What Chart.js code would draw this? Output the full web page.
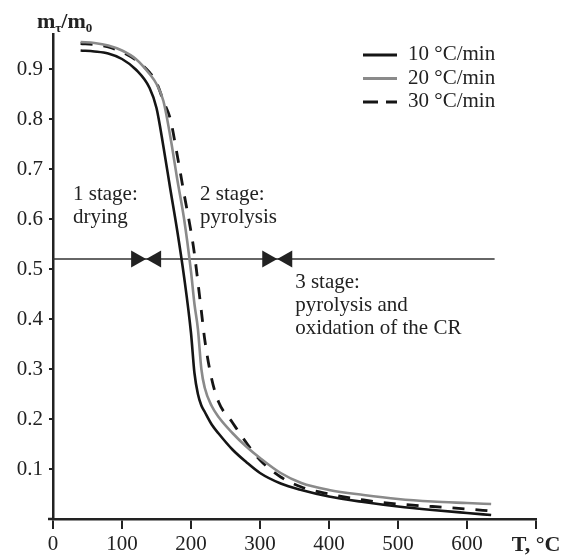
<!DOCTYPE html>
<html>
<head>
<meta charset="utf-8">
<script src="https://cdn.jsdelivr.net/npm/chart.js@4.4.1/dist/chart.umd.min.js"></script>
<style>
  body { margin: 0; background: #fff; }
  #wrap { width: 566px; height: 559px; }
</style>
</head>
<body>
<div id="wrap"><canvas id="tgChart"></canvas></div>
<script>
// temperature grid, °C
const temps = [40, 60, 80, 100, 120, 140, 150, 160, 170, 180, 190, 200, 205, 210, 215, 220, 230, 240, 260, 280, 300, 330, 360, 400, 450, 500, 550, 600, 635];

// relative mass m_t/m_0 for each heating rate
const mass10 = [0.937, 0.935, 0.931, 0.920, 0.899, 0.862, 0.822, 0.745, 0.660, 0.577, 0.484, 0.372, 0.292, 0.250, 0.227, 0.214, 0.189, 0.171, 0.139, 0.114, 0.092, 0.071, 0.058, 0.045, 0.034, 0.025, 0.018, 0.012, 0.008];
const mass20 = [0.954, 0.952, 0.947, 0.937, 0.920, 0.890, 0.870, 0.836, 0.765, 0.680, 0.600, 0.495, 0.430, 0.380, 0.300, 0.262, 0.226, 0.204, 0.172, 0.145, 0.122, 0.092, 0.072, 0.058, 0.048, 0.040, 0.035, 0.032, 0.030];
const mass30 = [0.951, 0.949, 0.944, 0.934, 0.918, 0.893, 0.873, 0.836, 0.800, 0.728, 0.650, 0.575, 0.530, 0.474, 0.416, 0.358, 0.280, 0.234, 0.193, 0.153, 0.118, 0.084, 0.064, 0.050, 0.038, 0.030, 0.025, 0.020, 0.016];

const rateLabels = ["10 °C/min", "20 °C/min", "30 °C/min"];

const xTicks = [0, 100, 200, 300, 400, 500, 600, 700];
const yTicks = [0, 0.1, 0.2, 0.3, 0.4, 0.5, 0.6, 0.7, 0.8, 0.9];

// stage separation line and its border markers
const stageLevel = 0.52;
const stageLineEnds = [0, 640];
const stageBorders = [135, 325];

const stageNotes = [
  { t: 29, m: [0.638, 0.592], lines: ["1 stage:", "drying"] },
  { t: 213, m: [0.638, 0.592], lines: ["2 stage:", "pyrolysis"] },
  { t: 351, m: [0.462, 0.416, 0.370], lines: ["3 stage:", "pyrolysis and", "oxidation of the CR"] }
];

const serif = '"Liberation Serif", "Times New Roman", serif';
Chart.defaults.font.family = serif;
Chart.defaults.font.size = 21;
Chart.defaults.color = "#222";

const toPoints = arr => arr.map((m, i) => ({ x: temps[i], y: m }));

const extras = {
  id: "extras",
  afterDatasetsDraw(chart) {
    const c = chart.ctx;
    const xs = chart.scales.x, ys = chart.scales.y;
    const area = chart.chartArea;
    c.save();

    // x axis runs a little past the y axis
    c.strokeStyle = "#222";
    c.lineWidth = 2.5;
    c.beginPath();
    c.moveTo(area.left - 5, area.bottom);
    c.lineTo(area.left, area.bottom);
    c.stroke();

    // bow-tie markers on the stage line
    c.fillStyle = "#222";
    const py = ys.getPixelForValue(stageLevel);
    stageBorders.forEach(t => {
      const px = xs.getPixelForValue(t);
      c.beginPath();
      c.moveTo(px - 15, py - 8.5);
      c.lineTo(px - 15, py + 8.5);
      c.lineTo(px, py);
      c.closePath();
      c.fill();
      c.beginPath();
      c.moveTo(px + 15, py - 8.5);
      c.lineTo(px + 15, py + 8.5);
      c.lineTo(px, py);
      c.closePath();
      c.fill();
    });

    // stage notes
    c.font = "21px " + serif;
    c.textBaseline = "alphabetic";
    c.textAlign = "left";
    stageNotes.forEach(n => {
      n.lines.forEach((s, i) => {
        c.fillText(s, xs.getPixelForValue(n.t), ys.getPixelForValue(n.m[i]));
      });
    });

    // legend
    const sets = chart.data.datasets.slice(0, 3);
    sets.forEach((ds, i) => {
      const ly = 55 + i * 23.5;
      c.strokeStyle = ds.borderColor;
      c.lineWidth = 3;
      c.setLineDash(i === 2 ? [15, 8] : []);
      c.beginPath();
      c.moveTo(363, ly);
      c.lineTo(397, ly);
      c.stroke();
      c.setLineDash([]);
      c.fillStyle = "#222";
      c.fillText(ds.label, 408, ly + 5);
    });

    // y axis title m_τ/m_0
    let x = 37;
    const base = 28;
    c.font = "bold 22px " + serif;
    c.fillText("m", x, base);
    x += c.measureText("m").width;
    c.font = "bold 13px " + serif;
    c.fillText("τ", x, base + 4);
    x += c.measureText("τ").width;
    c.font = "bold 22px " + serif;
    c.fillText("/m", x, base);
    x += c.measureText("/m").width;
    c.font = "bold 13px " + serif;
    c.fillText("0", x, base + 4);

    c.restore();
  }
};

new Chart(document.getElementById("tgChart"), {
  type: "line",
  data: {
    datasets: [
      { label: rateLabels[0], data: toPoints(mass10), borderColor: "#151515", borderWidth: 2.6 },
      { label: rateLabels[1], data: toPoints(mass20), borderColor: "#8a8a8a", borderWidth: 2.6 },
      { label: rateLabels[2], data: toPoints(mass30), borderColor: "#151515", borderWidth: 2.8, borderDash: [12, 11] },
      {
        label: "stages",
        data: stageLineEnds.map(t => ({ x: t, y: stageLevel })),
        borderColor: "#333",
        borderWidth: 1.5
      }
    ]
  },
  options: {
    responsive: true,
    maintainAspectRatio: false,
    animation: false,
    layout: { padding: { top: 34, right: 30, left: 0, bottom: 0 } },
    elements: {
      point: { radius: 0 },
      line: { cubicInterpolationMode: "monotone", fill: false }
    },
    plugins: {
      legend: { display: false },
      tooltip: { enabled: false }
    },
    scales: {
      x: {
        type: "linear",
        min: 0,
        max: 700,
        afterBuildTicks: s => { s.ticks = xTicks.map(v => ({ value: v })); },
        afterFit: s => { s.height = 40; },
        ticks: {
          padding: 3,
          maxRotation: 0,
          autoSkip: false,
          callback: v => v === 700 ? "T, °C" : String(v),
          font: ctx => (ctx.tick && ctx.tick.value === 700) ? { weight: "bold", size: 22 } : { size: 21 }
        },
        grid: { drawOnChartArea: false, tickLength: 10, color: "#222", lineWidth: 2 },
        border: { color: "#222", width: 2.5 }
      },
      y: {
        min: 0,
        max: 0.97,
        afterBuildTicks: s => { s.ticks = yTicks.map(v => ({ value: v })); },
        afterFit: s => { s.width = 53; },
        ticks: {
          padding: 6,
          callback: v => v === 0 ? "" : v.toFixed(1)
        },
        grid: { drawOnChartArea: false, tickLength: 4, color: "#222", lineWidth: 2 },
        border: { color: "#222", width: 2.5 }
      }
    }
  },
  plugins: [extras]
});
</script>
</body>
</html>
